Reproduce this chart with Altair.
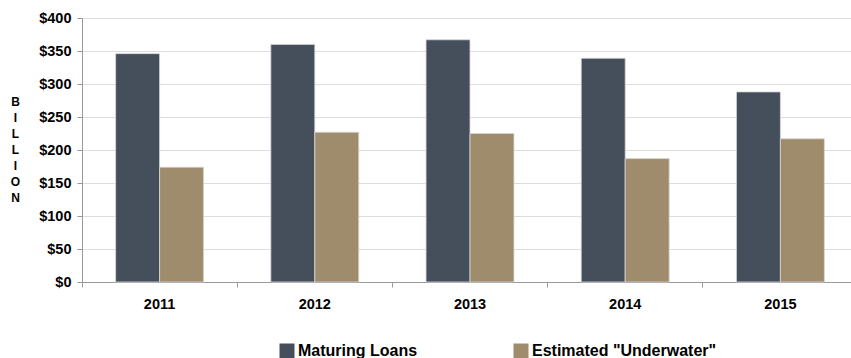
import altair as alt
import pandas as pd

years = ["2011", "2012", "2013", "2014", "2015"]
series = ["Maturing Loans", 'Estimated "Underwater"']
maturing = [346, 360, 367, 339, 288]
underwater = [174, 227, 225, 187, 217]

rows = []
for i, y in enumerate(years):
    rows.append({"year": y, "series": series[0], "value": maturing[i], "order": 0})
    rows.append({"year": y, "series": series[1], "value": underwater[i], "order": 1})
df = pd.DataFrame(rows)

FONT = "Liberation Sans"

chart = alt.Chart(df).mark_bar(stroke="#d8d8d8", strokeWidth=0.8).encode(
    x=alt.X("year:N", title=None,
            scale=alt.Scale(paddingInner=0, paddingOuter=0, range=[0, 776]),
            axis=alt.Axis(labelAngle=0, labelFont=FONT, labelFontSize=14.5,
                          labelFontWeight="bold", labelColor="#000000",
                          labelPadding=10, bandPosition=0, tickSize=5,
                          domainColor="#999999", tickColor="#999999",
                          grid=False)),
    xOffset=alt.XOffset("series:N", sort=series,
                        scale=alt.Scale(paddingInner=0, paddingOuter=0.765)),
    y=alt.Y("value:Q", title=["B", "I", "L", "L", "I", "O", "N"],
            scale=alt.Scale(domain=[0, 400]),
            axis=alt.Axis(values=[0, 50, 100, 150, 200, 250, 300, 350, 400],
                          labelExpr="'$' + datum.value",
                          labelFont=FONT, labelFontSize=14.5, labelFontWeight="bold",
                          labelColor="#000000", labelPadding=6,
                          titleFont=FONT, titleFontSize=12, titleFontWeight="bold",
                          titleColor="#000000", titleAngle=0, titleLineHeight=16,
                          titleX=-67, titleY=78, titleAlign="center",
                          titleBaseline="top",
                          domainColor="#999999", tickColor="#999999", tickSize=5,
                          gridColor="#bbbbbb", gridDash=[1, 1], gridWidth=1.2)),
    color=alt.Color("series:N", sort=series,
                    scale=alt.Scale(domain=series, range=["#444f5b", "#9e8c6c"]),
                    legend=alt.Legend(title=None, orient="none", direction="horizontal",
                                      legendX=197, legendY=325,
                                      symbolType="square", symbolSize=225,
                                      symbolStrokeWidth=0,
                                      labelFont=FONT, labelFontSize=16,
                                      labelFontWeight="bold", labelColor="#000000",
                                      labelLimit=300, columnPadding=95,
                                      labelOffset=3)),
).properties(
    width=768, height=264,
    autosize=alt.AutoSizeParams(type="none"),
    padding={"left": 82, "top": 18, "right": 1, "bottom": 76},
).configure_view(stroke=None)

chart.save("out.html", embed_options={"renderer": "svg", "actions": False})
